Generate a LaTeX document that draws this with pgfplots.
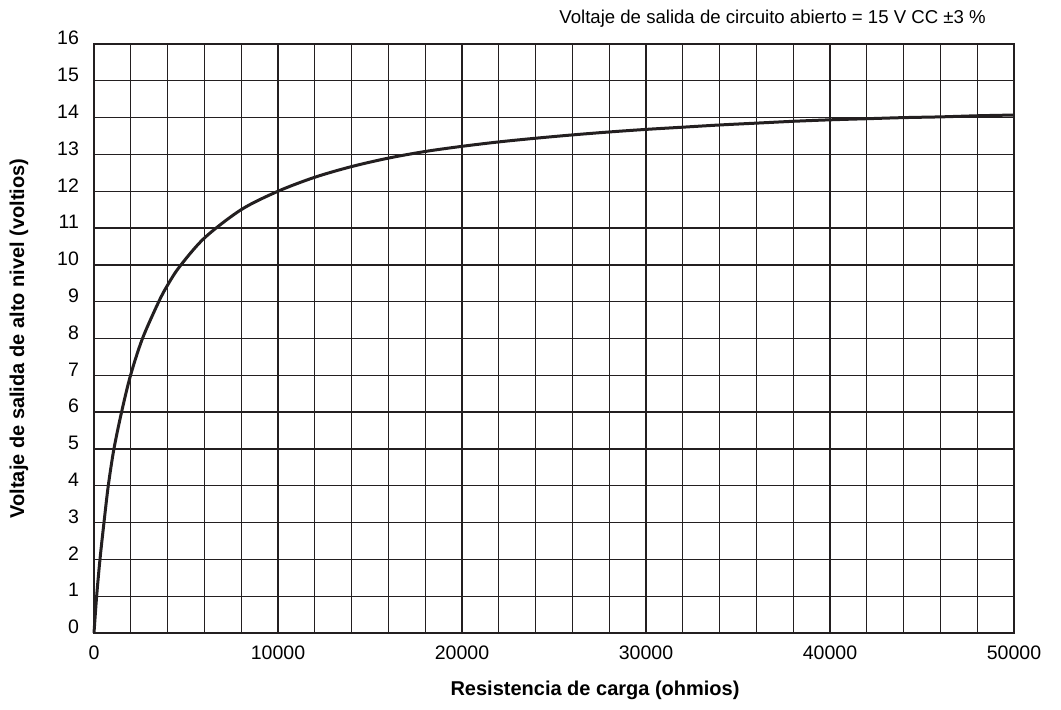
\documentclass[border=0pt]{standalone}
\usepackage{fontspec}
\setmainfont{Liberation Sans}
\usepackage{pgfplots}
\pgfplotsset{compat=1.18}
\definecolor{ink}{RGB}{35,31,32}
\begin{document}
\begin{tikzpicture}
\begin{axis}[
  scale only axis,
  width=460pt, height=294.5pt,
  xmin=0, xmax=50000, ymin=0, ymax=16,
  xtick={0,10000,20000,30000,40000,50000},
  minor x tick num=4,
  ytick={0,1,...,16},
  grid=both,
  major grid style={draw=ink, line width=0.65pt},
  minor grid style={draw=ink, line width=0.65pt},
  axis line style={draw=ink, line width=0.75pt},
  major tick length=0pt, minor tick length=0pt,
  scaled x ticks=false,
  /pgf/number format/assume math mode=true,
  /pgf/number format/set thousands separator={},
  tick label style={font=\fontsize{9.75pt}{11pt}\selectfont, text=black},
  yticklabel style={yshift=3pt, xshift=-4pt},
  xticklabel style={yshift=-3pt},
  xlabel={\textbf{Resistencia de carga (ohmios)}},
  ylabel={\textbf{Voltaje de salida de alto nivel (voltios)}},
  label style={font=\fontsize{10pt}{12pt}\selectfont},
  xlabel style={at={(axis description cs:0.5446,0)}, anchor=center, yshift=-28.5pt},
  ylabel style={at={(axis description cs:-0.0815,0.5)}, anchor=center},
  clip=false,
]
\addplot[draw=ink, line width=1.5pt, smooth, tension=0.5] coordinates {
(0,0) (144,1) (325,2) (542,3) (776,4) (1083,5) (1498,6) (1986,7) (2635,8)
(3520,9) (4000,9.45) (4650,9.95) (6000,10.73) (8000,11.5) (10000,12) (12000,12.38) (14000,12.67)
(16000,12.9) (18000,13.08) (20000,13.22) (22000,13.34) (24000,13.44) (26000,13.53)
(28000,13.61) (30000,13.68) (32000,13.74) (34000,13.8) (36000,13.85) (38000,13.9)
(40000,13.94) (42000,13.97) (44000,14.0) (46000,14.02) (48000,14.05) (50000,14.07)
};
\node[anchor=base east, font=\fontsize{9.3pt}{11pt}\selectfont] at (axis description cs:0.977,1.034)
  {Voltaje de salida de circuito abierto = 15 V CC ±3 \%};
\end{axis}
\pgfresetboundingbox
\useasboundingbox (-47pt,-38.5pt) rectangle (483.5pt,316.5pt);
\end{tikzpicture}
\end{document}
